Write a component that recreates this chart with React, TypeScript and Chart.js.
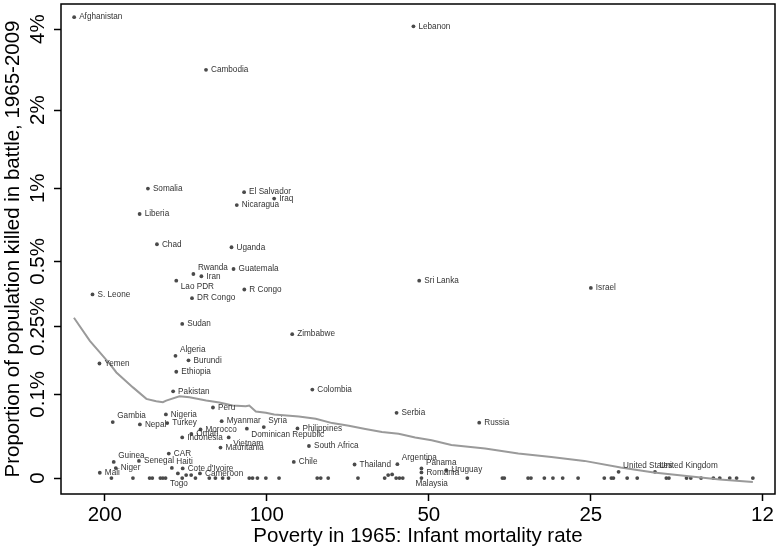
import React, { useEffect, useRef } from 'react';
import { Chart, registerables, LinearScale } from 'chart.js';

// ---------- data ----------
const countries = [
  'Afghanistan', 'Cambodia', 'Lebanon', 'Somalia', 'Liberia', 'Chad', 'S. Leone', 'Rwanda', 'Iran', 'Lao PDR',
  'DR Congo', 'Sudan', 'El Salvador', 'Nicaragua', 'Uganda', 'Guatemala', 'R Congo', 'Iraq', 'Zimbabwe', 'Sri Lanka',
  'Israel', 'Yemen', 'Algeria', 'Burundi', 'Ethiopia', 'Pakistan', 'Peru', 'Gambia', 'Nigeria', 'Nepal',
  'Turkey', 'Myanmar', 'Morocco', 'Oman', 'Indonesia', 'Dominican Republic', 'Vietnam', 'Mauritania', 'Syria', 'Philippines',
  'Colombia', 'South Africa', 'Serbia', 'Russia', 'Chile', 'Thailand', 'Argentina', 'Panama', 'Romania', 'Uruguay',
  'Malaysia', 'United States', 'United Kingdom', 'Guinea', 'Senegal', 'Haiti', 'CAR', 'Niger', 'Mali', "Cote d'Ivoire",
  'Togo', 'Cameroon',
];
const infantMortality = [
  228, 129.7, 53.4, 166.3, 172.3, 160, 210.8, 136.9, 132.3, 147.3,
  137.7, 143.6, 110.2, 113.7, 116.3, 115.3, 110.1, 96.9, 89.7, 52.1,
  25.0, 204.6, 147.8, 139.8, 147.3, 149.3, 125.9, 193.3, 154, 172.1,
  153.1, 121.3, 132.8, 138.1, 143.6, 108.9, 117.7, 121.9, 101.3, 87.7,
  82.3, 83.5, 57.4, 40.3, 89.1, 68.7, 57.2, 51.6, 51.6, 46.4,
  51.6, 22.2, 19.0, 192.5, 172.8, 150.1, 152.1, 190.8, 204.3, 143.3,
  154.2, 133.1,
];
// battle deaths, % of population
const battleDeaths = [
  4.43, 2.83, 4.1, 0.997, 0.789, 0.592, 0.357, 0.441, 0.431, 0.412,
  0.343, 0.258, 0.965, 0.857, 0.575, 0.464, 0.376, 0.91, 0.229, 0.412,
  0.382, 0.158, 0.175, 0.165, 0.141, 0.105, 0.0793, 0.0589, 0.0693, 0.0559,
  0.0576, 0.0602, 0.0496, 0.044, 0.040, 0.0505, 0.040, 0.0287, 0.0525, 0.0508,
  0.108, 0.0304, 0.0716, 0.0581, 0.0143, 0.0119, 0.0122, 0.0083, 0.0048, 0.0068,
  0.0, 0.0053, 0.0053, 0.0143, 0.0153, 0.0088, 0.0225, 0.0086, 0.0045, 0.0083,
  0.0, 0.0039,
];
// unlabelled countries
const otherMortality = [
  194.4, 177.3, 165.1, 163.2, 157.7, 156.0, 146.3, 143.6, 141.2, 138.2,
  135.7, 127.9, 124.6, 120.8, 117.8, 107.8, 106.3, 104.1, 100.4, 94.9,
  80.6, 79.4, 76.9, 67.7, 60.4, 59.5, 58.5, 57.5, 56.7, 55.9,
  42.4, 36.5, 36.2, 32.7, 32.3, 30.5, 29.4, 28.2, 26.4, 23.6,
  22.9, 22.7, 21.4, 20.5, 18.1, 17.9, 16.6, 16.3, 15.6, 14.8,
  14.4, 13.8, 13.4, 12.5,
];
const otherDeaths = [
  0, 0, 0, 0, 0, 0, 0.0039, 0, 0.0025, 0.0025,
  0, 0, 0, 0, 0, 0, 0, 0, 0, 0,
  0, 0, 0, 0, 0, 0.0025, 0.0031, 0, 0, 0,
  0, 0, 0, 0, 0, 0, 0, 0, 0, 0,
  0, 0, 0, 0, 0, 0, 0, 0, 0, 0,
  0, 0, 0, 0,
];
// lowess smoother
const lowessMortality = [
  228.2, 213.2, 204.3, 195.8, 190.3, 177.3, 167.4, 160.5, 156.0, 153.8,
  145.3, 139.2, 129.6, 122.5, 115.8, 109.4, 107.8, 104.8, 100.4, 96.9,
  87.2, 81.1, 75.6, 70.4, 65.6, 61.1, 56.9, 53.0, 49.4, 45.4,
  39.3, 34.1, 29.6, 25.7, 22.0, 19.1, 16.6, 14.4, 12.5,
];
const lowessDeaths = [
  0.2767, 0.211, 0.183, 0.1574, 0.1396, 0.1118, 0.0926, 0.0888, 0.0873, 0.0899,
  0.0967, 0.0951, 0.0899, 0.0868, 0.0823, 0.0812, 0.0823, 0.0735, 0.0717, 0.0693,
  0.0665, 0.0634, 0.0576, 0.0542, 0.05, 0.0463, 0.0444, 0.0398, 0.0367, 0.0315,
  0.0277, 0.0225, 0.0191, 0.0153, 0.0092, 0.0048, 0.0017, -0.0011, -0.0032,
];
const xTickValues = [200, 100, 50, 25, 12];
const xTickLabels = ['200', '100', '50', '25', '12'];
const yTickValues = [0, 0.1, 0.25, 0.5, 1, 2, 4];
const yTickLabels = ['0', '0.1%', '0.25%', '0.5%', '1%', '2%', '4%'];

const xTitle = 'Poverty in 1965: Infant mortality rate';
const yTitle = 'Proportion of population killed in battle, 1965-2009';

// label placement (style)
const labelPlacement: Record<string, string> = {
  Rwanda: 'ur', 'Lao PDR': 'lr', Algeria: 'ur', Gambia: 'ur', 'Dominican Republic': 'lr',
  Vietnam: 'lr', Syria: 'ur', Argentina: 'ur', Panama: 'ur', Malaysia: 'bl', Togo: 'lr',
  'United States': 'ur', 'United Kingdom': 'ur', Guinea: 'ur', Haiti: 'ur',
};

const FONT = '"Liberation Sans", Arial, Helvetica, sans-serif';

// ---------- custom scale: log2(v + shift) ----------
class OffsetLogScale extends LinearScale {
  static id = 'offsetlog';
  configure() {
    super.configure();
    const c = (this.options as any).shift ?? 0.1;
    (this as any)._s0 = Math.log2(this.min + c);
    (this as any)._rng = Math.log2(this.max + c) - (this as any)._s0;
  }
  getPixelForValue(value: any) {
    if (value === null || value === undefined || isNaN(value)) return NaN;
    const c = (this.options as any).shift ?? 0.1;
    return this.getPixelForDecimal((Math.log2(value + c) - (this as any)._s0) / (this as any)._rng);
  }
  getValueForPixel(pixel: number) {
    const c = (this.options as any).shift ?? 0.1;
    const d = this.getDecimalForPixel(pixel);
    return Math.pow(2, (this as any)._s0 + d * (this as any)._rng) - c;
  }
}

Chart.register(...registerables, OffsetLogScale as any);

const framePlugin = {
  id: 'frame',
  afterDraw(chart: any) {
    const { ctx, chartArea: a } = chart;
    ctx.save();
    ctx.strokeStyle = '#000';
    ctx.lineWidth = 1.5;
    ctx.strokeRect(a.left, a.top, a.right - a.left, a.bottom - a.top);
    ctx.restore();
  },
};

const yLabelPlugin = {
  id: 'yTickText',
  afterDraw(chart: any) {
    const { ctx } = chart;
    const ys = chart.scales.y;
    ctx.save();
    ctx.font = `20.5px ${FONT}`;
    ctx.fillStyle = '#000';
    ctx.textAlign = 'center';
    ctx.textBaseline = 'alphabetic';
    yTickValues.forEach((v, i) => {
      const py = ys.getPixelForValue(v);
      ctx.save();
      ctx.translate(43.5, py);
      ctx.rotate(-Math.PI / 2);
      ctx.fillText(yTickLabels[i], 0, 0);
      ctx.restore();
    });
    ctx.restore();
  },
};

const pointLabelPlugin = {
  id: 'pointLabels',
  afterDatasetsDraw(chart: any) {
    const { ctx } = chart;
    const meta = chart.getDatasetMeta(1);
    ctx.save();
    ctx.font = `8.2px ${FONT}`;
    ctx.fillStyle = '#333';
    ctx.textAlign = 'left';
    ctx.textBaseline = 'middle';
    meta.data.forEach((pt: any, i: number) => {
      const name = countries[i];
      const pos = labelPlacement[name] || 'r';
      let dx = 5;
      let dy = 0;
      if (pos === 'ur') { dx = 4.5; dy = -6; }
      else if (pos === 'lr') { dx = 4.5; dy = 6; }
      else if (pos === 'bl') { dx = -6; dy = 6; }
      ctx.fillText(name, pt.x + dx, pt.y + dy);
    });
    ctx.restore();
  },
};

export default function App() {
  const ref = useRef<HTMLCanvasElement>(null);
  useEffect(() => {
    const chart = new Chart(ref.current as HTMLCanvasElement, {
      type: 'scatter',
      data: {
        datasets: [
          {
            label: 'lowess',
            data: lowessMortality.map((x, i) => ({ x, y: lowessDeaths[i] })),
            showLine: true,
            borderColor: '#9a9a9a',
            borderWidth: 2,
            pointRadius: 0,
            fill: false,
            tension: 0,
          } as any,
          {
            label: 'labelled',
            data: infantMortality.map((x, i) => ({ x, y: battleDeaths[i] })),
            pointRadius: 1.9,
            backgroundColor: '#4a4a4a',
            borderWidth: 0,
          },
          {
            label: 'other',
            data: otherMortality.map((x, i) => ({ x, y: otherDeaths[i] })),
            pointRadius: 1.9,
            backgroundColor: '#4a4a4a',
            borderWidth: 0,
          },
        ],
      },
      options: {
        animation: false,
        responsive: false,
        events: [],
        layout: { padding: { top: 1, right: 1, left: 0, bottom: 0 } },
        plugins: { legend: { display: false }, tooltip: { enabled: false } },
        scales: {
          x: {
            type: 'logarithmic',
            reverse: true,
            min: 11.37,
            max: 241.2,
            bounds: 'data',
            border: { display: false },
            grid: { display: true, drawOnChartArea: false, drawTicks: true, tickLength: 7, tickWidth: 1.5, tickColor: '#000' },
            afterBuildTicks: (s: any) => { s.ticks = xTickValues.map((v) => ({ value: v })); },
            afterFit: (s: any) => { s.height = 55; },
            ticks: {
              autoSkip: false,
              maxRotation: 0,
              minRotation: 0,
              padding: 2,
              color: '#000',
              font: { family: FONT, size: 20.5 },
              callback: (_v: any, i: number) => xTickLabels[i],
            },
            title: {
              display: true,
              text: xTitle,
              color: '#000',
              font: { family: FONT, size: 20.5 },
              padding: { top: 0, bottom: 0.5 },
            },
          },
          y: {
            type: 'offsetlog' as any,
            shift: 0.1,
            min: -0.01233,
            max: 4.95,
            bounds: 'data',
            border: { display: false },
            grid: { display: true, drawOnChartArea: false, drawTicks: true, tickLength: 7, tickWidth: 1.5, tickColor: '#000' },
            afterBuildTicks: (s: any) => { s.ticks = yTickValues.map((v) => ({ value: v })); },
            afterFit: (s: any) => { s.width = 61; },
            ticks: { display: false },
            title: {
              display: true,
              text: yTitle,
              color: '#000',
              font: { family: FONT, size: 20.5 },
              padding: { top: 1, bottom: 0 },
            },
          } as any,
        },
      },
      plugins: [framePlugin, yLabelPlugin, pointLabelPlugin],
    });
    return () => chart.destroy();
  }, []);
  return (
    <div style={{ position: 'absolute', left: 0, top: 0, width: 779, height: 549, background: '#fff' }}>
      <canvas ref={ref} width={779} height={549} style={{ display: 'block', width: 779, height: 549 }} />
    </div>
  );
}
